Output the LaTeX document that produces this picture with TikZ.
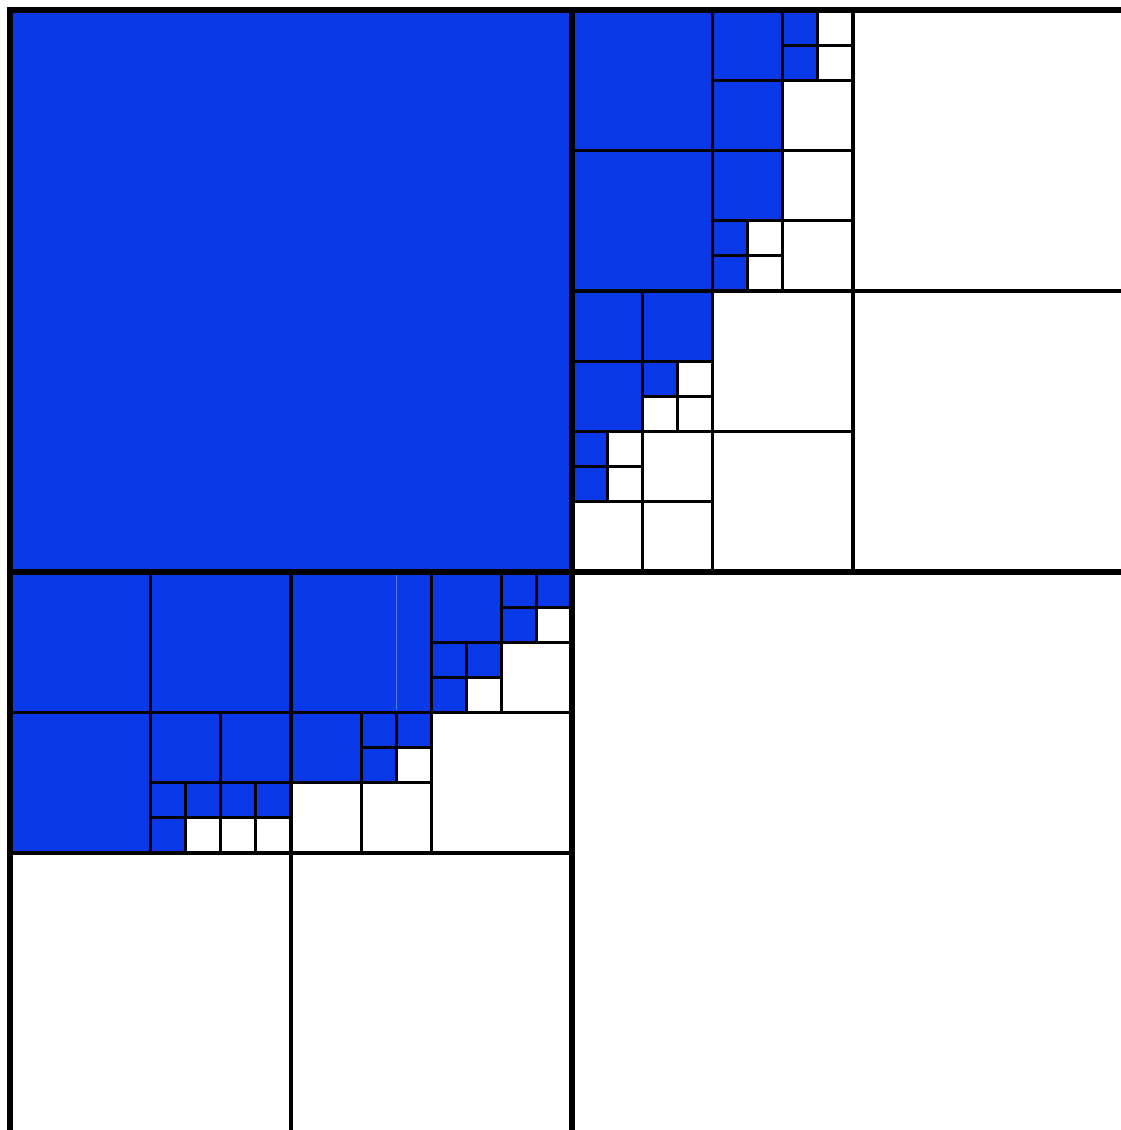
\documentclass[tikz,border=0pt]{standalone}
\definecolor{qblue}{RGB}{10,58,232}
\definecolor{qfaint}{RGB}{80,120,245}
\tikzset{
  cell/.style={draw=black, line width=2.3pt},
  bluecell/.style={cell, fill=qblue},
  quadline/.style={draw=black, line width=4pt},
}
\begin{document}
\begin{tikzpicture}[x=52.6875pt, y=-52.6875pt]
\useasboundingbox (-0.14235,-0.14235) rectangle (15.8149,15.9431);
% white leaf cells
\foreach \x/\y/\s in {
  11.5/0/0.5, 11.5/0.5/0.5, 11/1/1,
  11/2/1, 10.5/3/0.5, 10.5/3.5/0.5, 11/3/1,
  12/0/4, 9.5/5/0.5, 9/5.5/0.5, 9.5/5.5/0.5,
  10/4/2, 8.5/6/0.5, 8.5/6.5/0.5, 9/6/1, 8/7/1, 9/7/1,
  10/6/2, 12/4/4,
  2.5/11.5/0.5, 3/11.5/0.5, 3.5/11.5/0.5,
  7.5/8.5/0.5, 6.5/9.5/0.5, 7/9/1,
  5.5/10.5/0.5, 4/11/1, 5/11/1, 6/10/2,
  0/12/4, 4/12/4, 8/8/8}
  \path[cell] (\x,\y) rectangle ++(\s,\s);
% blue leaf cells
\foreach \x/\y/\s in {
  0/0/8,
  8/0/2, 10/0/1, 11/0/0.5, 11/0.5/0.5, 10/1/1,
  8/2/2, 10/2/1, 10/3/0.5, 10/3.5/0.5,
  8/4/1, 9/4/1, 8/5/1, 9/5/0.5,
  8/6/0.5, 8/6.5/0.5,
  0/8/2, 2/8/2, 0/10/2, 2/10/1, 3/10/1,
  2/11/0.5, 2.5/11/0.5, 2/11.5/0.5, 3/11/0.5, 3.5/11/0.5,
  4/8/2, 6/8/1, 7/8/0.5, 7.5/8/0.5, 7/8.5/0.5,
  6/9/0.5, 6.5/9/0.5, 6/9.5/0.5,
  4/10/1, 5/10/0.5, 5.5/10/0.5, 5/10.5/0.5}
  \path[bluecell] (\x,\y) rectangle ++(\s,\s);
% faint line inside the blue block
\draw[qfaint, line width=0.8pt] (5.5,8.03) -- (5.5,9.97);
% quadrant lines
\draw[quadline] (0,16.2) -- (0,0) -- (16.2,0);
\draw[quadline] (8,0) -- (8,16.2);
\draw[quadline] (0,8) -- (16.2,8);
\end{tikzpicture}
\end{document}
